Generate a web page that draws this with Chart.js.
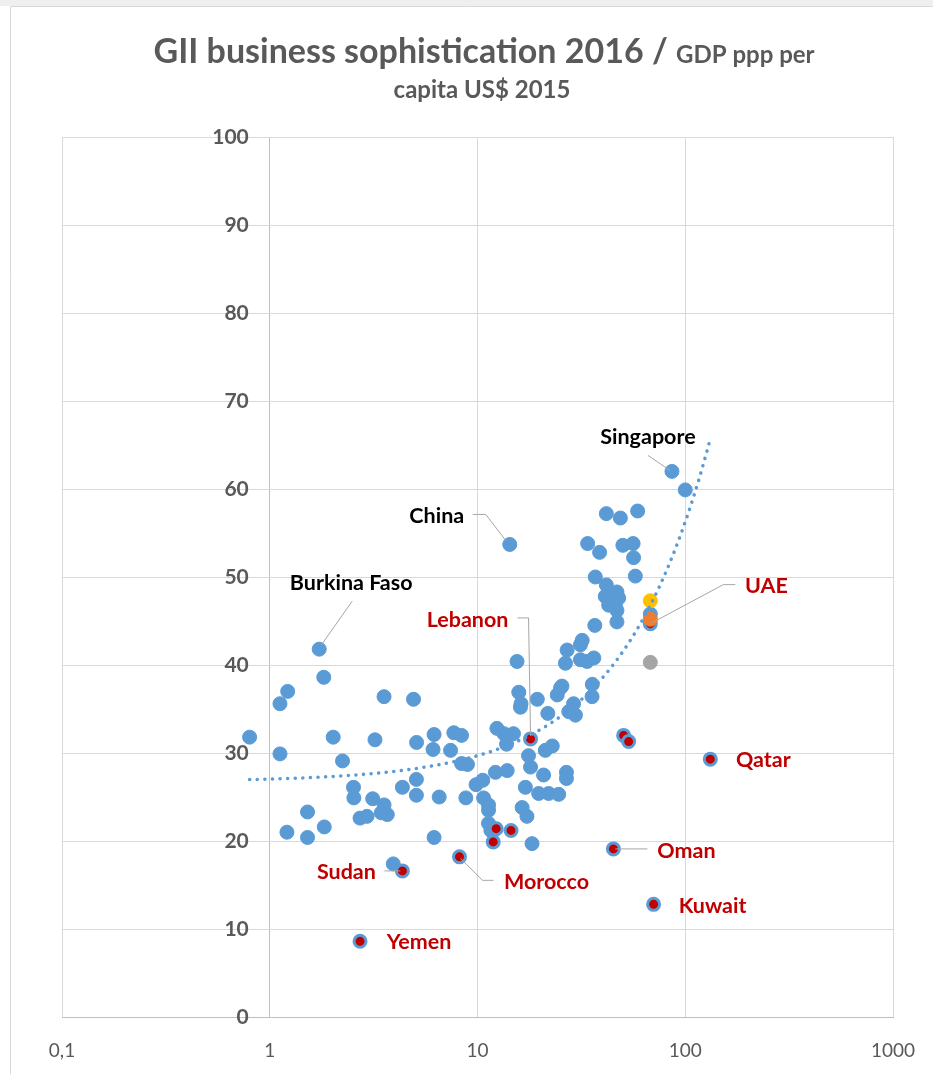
<!DOCTYPE html>
<html>
<head>
<meta charset="utf-8">
<title>GII business sophistication 2016</title>
<script src="https://cdn.jsdelivr.net/npm/chart.js@4.4.1/dist/chart.umd.min.js"></script>
<style>
  html, body { margin: 0; padding: 0; background: #fff; }
  #wrap { width: 933px; height: 1074px; }
</style>
</head>
<body>
<div id="wrap"><canvas id="chart-gii" width="933" height="1074"></canvas></div>
<script>
// GDP ppp per capita 2015 (thousand US$) / GII business sophistication score 2016
// first three entries are the labelled ones
var allNames = ['Burkina Faso', 'China', 'Singapore'];
var gdpAll = [1.73, 14.3, 86.3,
    0.80, 1.12, 1.22, 1.12, 1.82, 2.02, 2.24, 3.55, 3.21, 4.92, 5.09, 6.18, 6.11, 7.42, 7.69, 8.38, 8.38, 8.95,
    15.5, 15.8, 16.2, 16.1, 19.4, 21.8, 12.4, 13.4, 14.9, 13.8, 17.6, 18.0, 21.2, 22.9, 20.8, 26.8, 26.8,
    17.0, 19.7, 22.0, 24.6, 16.4, 17.3, 18.3, 2.53, 2.54, 3.13, 3.55, 3.68, 3.44, 2.72, 2.94, 1.52, 1.21,
    1.52, 1.83, 4.35, 5.08, 5.08, 6.54, 6.18, 8.79, 9.84, 10.6, 12.2, 13.9, 10.7, 11.3, 11.3, 11.3, 11.6,
    3.93, 41.7, 48.7, 59.0, 33.9, 38.7, 50.1, 56.1, 56.4, 57.5, 36.9, 41.7, 46.9, 41.2, 47.8, 43.1, 42.8,
    46.0, 46.9, 46.9, 36.7, 31.9, 31.3, 27.0, 26.5, 31.3, 36.3, 33.7, 25.5, 35.7, 35.6, 25.1, 24.2, 27.5,
    29.6, 29.0, 100, 67.9];
var scoreAll = [41.8, 53.7, 62.0,
    31.8, 35.6, 37.0, 29.9, 38.6, 31.8, 29.1, 36.4, 31.5, 36.1, 31.2, 32.1, 30.4, 30.3, 32.3, 32.0, 28.8, 28.7,
    40.4, 36.9, 35.6, 35.2, 36.1, 34.5, 32.8, 32.2, 32.2, 31.0, 29.7, 28.4, 30.3, 30.8, 27.5, 27.8, 27.1,
    26.1, 25.4, 25.4, 25.3, 23.8, 22.8, 19.7, 26.1, 24.9, 24.8, 24.1, 23.0, 23.2, 22.6, 22.8, 23.3, 21.0,
    20.4, 21.6, 26.1, 27.0, 25.2, 25.0, 20.4, 24.9, 26.4, 26.9, 27.8, 28.0, 24.9, 24.1, 23.5, 22.0, 21.2,
    17.4, 57.2, 56.7, 57.5, 53.8, 52.8, 53.6, 53.8, 52.2, 50.1, 50.0, 49.1, 48.3, 47.8, 47.6, 47.4, 46.8,
    46.8, 46.2, 44.9, 44.5, 42.8, 42.3, 41.7, 40.2, 40.6, 40.8, 40.4, 37.6, 37.8, 36.4, 37.4, 36.6, 34.7,
    34.3, 35.6, 59.9, 45.8];

// Arab countries, highlighted in red
var arabNames = ['Lebanon', 'Sudan', 'Morocco', 'Yemen', 'Oman', 'Kuwait', 'Qatar', 'UAE', '', '', '', '', ''];
var gdpArab = [18.0, 4.35, 8.19, 2.72, 45.1, 70.4, 132, 67.9, 50.5, 53.4, 12.3, 14.5, 11.9];
var scoreArab = [31.6, 16.6, 18.2, 8.6, 19.1, 12.8, 29.3, 44.7, 32.0, 31.3, 21.4, 21.2, 19.9];

// three single points plotted at the same GDP
var gdpYellow = [67.9], scoreYellow = [47.3];
var gdpOrange = [67.9], scoreOrange = [45.2];
var gdpGrey = [67.9], scoreGrey = [40.3];

var xTickValues = [0.1, 1, 10, 100, 1000];
var xTickLabels = ['0,1', '1', '10', '100', '1000'];
var yTickValues = [0, 10, 20, 30, 40, 50, 60, 70, 80, 90, 100];

var titleMain = 'GII business sophistication 2016 / ';
var titleSub1 = 'GDP ppp per';
var titleSub2 = 'capita US$ 2015';

// label placement (px offsets from the point) and leader lines
var labelStyle = {
    'Burkina Faso': { dx: 32, dy: -66, color: '#000', leader: [[33, -48], [2, -4]] },
    'China':        { dx: -73, dy: -28, color: '#000', leader: [[-37, -30], [-24, -30], [-4, -4]] },
    'Singapore':    { dx: -24, dy: -34, color: '#000', leader: [[-24, -16], [-2, -1]] },
    'Lebanon':      { dx: -63, dy: -119, color: '#C00000', leader: [[-13, -121], [-2, -121], [0, -3]] },
    'UAE':          { dx: 116, dy: -38, color: '#C00000', leader: [[85, -39], [73, -39], [2, -1]] },
    'Qatar':        { dx: 53, dy: 1, color: '#C00000' },
    'Oman':         { dx: 73, dy: 2, color: '#C00000', leader: [[2, 0], [34, 0]] },
    'Kuwait':       { dx: 59, dy: 2, color: '#C00000' },
    'Morocco':      { dx: 87, dy: 25, color: '#C00000', leader: [[1, 1.5], [23, 23.5], [34, 23.5]] },
    'Sudan':        { dx: -56, dy: 1, color: '#C00000', leader: [[-18, 0], [-2, 0]] },
    'Yemen':        { dx: 59, dy: 1, color: '#C00000' }
};

function toPoints(xs, ys) {
    return xs.map(function(x, i) { return { x: x, y: ys[i] }; });
}

// linear least squares trend over every country (Excel style), drawn on the log axis
function trendPoints() {
    var xs = gdpAll.concat(gdpArab), ys = scoreAll.concat(scoreArab);
    var n = xs.length, sx = 0, sy = 0, sxx = 0, sxy = 0;
    for (var i = 0; i < n; i++) {
        sx += xs[i]; sy += ys[i]; sxx += xs[i] * xs[i]; sxy += xs[i] * ys[i];
    }
    var slope = (n * sxy - sx * sy) / (n * sxx - sx * sx);
    var icpt = (sy - slope * sx) / n;
    var lo = Math.min.apply(null, xs), hi = Math.max.apply(null, xs);
    var pts = [];
    for (var lx = Math.log10(lo); lx < Math.log10(hi); lx += 0.02) {
        var x = Math.pow(10, lx);
        pts.push({ x: x, y: icpt + slope * x });
    }
    pts.push({ x: hi, y: icpt + slope * hi });
    return pts;
}

var decor = {
    id: 'giiDecor',
    beforeDraw: function(chart) {
        var ctx = chart.ctx;
        ctx.save();
        ctx.fillStyle = '#fff';
        ctx.fillRect(0, 0, chart.width, chart.height);
        ctx.fillStyle = '#EFEFEF';
        ctx.fillRect(0, 0, chart.width, 6);
        ctx.strokeStyle = '#D9D9D9';
        ctx.lineWidth = 1;
        ctx.beginPath();
        ctx.moveTo(10.5, chart.height);
        ctx.lineTo(10.5, 6.5);
        ctx.lineTo(chart.width, 6.5);
        ctx.stroke();
        ctx.restore();
    },
    afterDatasetsDraw: function(chart) {
        var ctx = chart.ctx, xs = chart.scales.x, ys = chart.scales.y;
        function place(name, gx, sy) {
            var st = labelStyle[name];
            if (!st) return;
            var px = xs.getPixelForValue(gx), py = ys.getPixelForValue(sy);
            if (st.leader) {
                ctx.strokeStyle = '#A6A6A6';
                ctx.lineWidth = 1;
                ctx.beginPath();
                st.leader.forEach(function(p, k) {
                    if (k === 0) ctx.moveTo(px + p[0], py + p[1]);
                    else ctx.lineTo(px + p[0], py + p[1]);
                });
                ctx.stroke();
            }
            ctx.fillStyle = st.color;
            ctx.fillText(name, px + st.dx, py + st.dy);
        }
        ctx.save();
        ctx.font = 'bold 21.5px Lato';
        ctx.textAlign = 'center';
        ctx.textBaseline = 'middle';
        allNames.forEach(function(n, i) { place(n, gdpAll[i], scoreAll[i]); });
        arabNames.forEach(function(n, i) { if (n) place(n, gdpArab[i], scoreArab[i]); });
        ctx.restore();
    },
    afterDraw: function(chart) {
        var ctx = chart.ctx, xs = chart.scales.x, ys = chart.scales.y, area = chart.chartArea;
        ctx.save();
        ctx.fillStyle = '#595959';
        // value axis labels sit beside the axis line at x = 1
        ctx.font = 'bold 21px Lato';
        ctx.textAlign = 'right';
        ctx.textBaseline = 'middle';
        var axisX = xs.getPixelForValue(1);
        yTickValues.forEach(function(v) {
            ctx.fillText(String(v), axisX - 21, ys.getPixelForValue(v));
        });
        ctx.font = '19px Lato';
        ctx.textAlign = 'center';
        xTickValues.forEach(function(v, i) {
            ctx.fillText(xTickLabels[i], xs.getPixelForValue(v), area.bottom + 34);
        });
        // two-size title
        ctx.textAlign = 'left';
        ctx.textBaseline = 'alphabetic';
        var fMain = 'bold 34px Lato', fSub = 'bold 24px Lato';
        ctx.font = fMain;
        var w1 = ctx.measureText(titleMain).width;
        ctx.font = fSub;
        var w2 = ctx.measureText(titleSub1).width;
        var x0 = 484 - (w1 + w2) / 2;
        ctx.font = fMain;
        ctx.fillText(titleMain, x0, 63);
        ctx.font = fSub;
        ctx.fillText(titleSub1, x0 + w1, 63);
        ctx.textAlign = 'center';
        ctx.fillText(titleSub2, 482, 98);
        ctx.restore();
    }
};

var ctx = document.getElementById('chart-gii').getContext('2d');
var chart = new Chart(ctx, {
    type: 'scatter',
    data: {
        datasets: [{
            type: 'line',
            data: trendPoints(),
            borderColor: '#5B9BD5',
            borderWidth: 3.5,
            borderDash: [0.1, 7.5],
            borderCapStyle: 'round',
            pointRadius: 0,
            fill: false,
            tension: 0,
            order: 0
        }, {
            data: toPoints(gdpOrange, scoreOrange),
            backgroundColor: '#ED7D31', borderColor: '#ED7D31',
            pointRadius: 7, borderWidth: 1, order: 1
        }, {
            data: toPoints(gdpYellow, scoreYellow),
            backgroundColor: '#FFC000', borderColor: '#FFC000',
            pointRadius: 7, borderWidth: 1, order: 2
        }, {
            data: toPoints(gdpGrey, scoreGrey),
            backgroundColor: '#A5A5A5', borderColor: '#A5A5A5',
            pointRadius: 7, borderWidth: 1, order: 3
        }, {
            data: toPoints(gdpArab, scoreArab),
            backgroundColor: '#C00000', borderColor: '#5B9BD5',
            pointRadius: 6, borderWidth: 3, order: 4
        }, {
            data: toPoints(gdpAll, scoreAll),
            backgroundColor: '#5B9BD5', borderColor: '#5B9BD5',
            pointRadius: 7, borderWidth: 1, order: 5
        }]
    },
    options: {
        responsive: false,
        animation: false,
        devicePixelRatio: 1,
        layout: { padding: { left: 62, right: 40, top: 137, bottom: 57 } },
        plugins: { legend: { display: false }, tooltip: { enabled: false } },
        scales: {
            x: {
                type: 'logarithmic',
                min: 0.1,
                max: 1000,
                afterBuildTicks: function(scale) {
                    scale.ticks = xTickValues.map(function(v) { return { value: v }; });
                },
                ticks: { display: false },
                grid: {
                    color: function(c) { return c.tick && c.tick.value === 1 ? '#BFBFBF' : '#D9D9D9'; },
                    drawTicks: false
                },
                border: { display: true, color: '#BFBFBF' }
            },
            y: {
                min: 0,
                max: 100,
                ticks: { display: false, stepSize: 10 },
                grid: { color: '#D9D9D9', drawTicks: false },
                border: { display: false }
            }
        }
    },
    plugins: [decor]
});
</script>
</body>
</html>
